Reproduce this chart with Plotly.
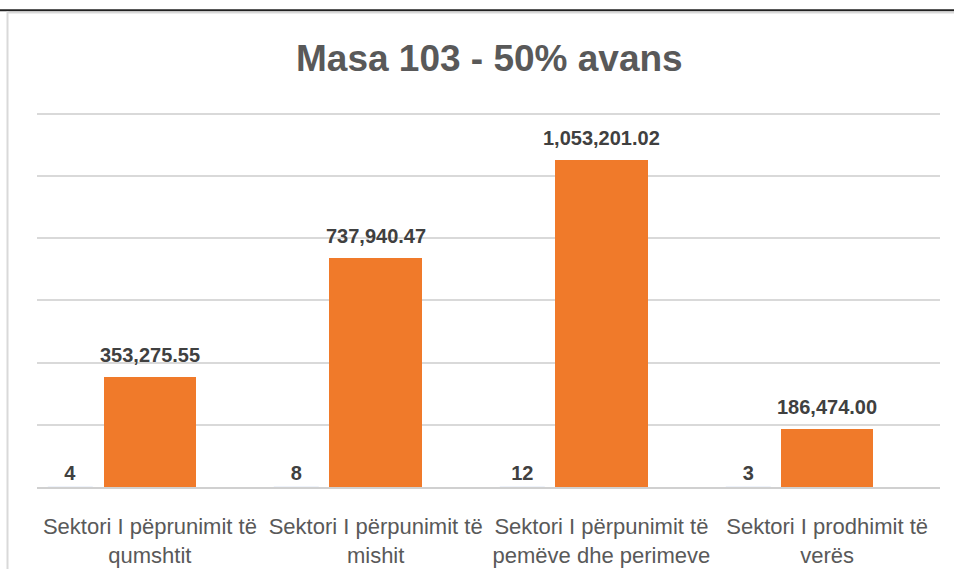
import plotly.graph_objects as go

categories = ["Sektori I pëprunimit të<br>qumshtit",
              "Sektori I përpunimit të<br>mishit",
              "Sektori I përpunimit të<br>pemëve dhe perimeve",
              "Sektori I prodhimit të<br>verës"]
counts = [4, 8, 12, 3]
amounts = [353275.55, 737940.47, 1053201.02, 186474.00]
amount_labels = ["353,275.55", "737,940.47", "1,053,201.02", "186,474.00"]
title = "Masa 103 - 50% avans"

W, H = 954, 580
Y_TOP = 1206000
L, R, B = 37, 14, 84
ph = 382 * Y_TOP / 1200000
T = H - B - ph
pw = W - L - R

def px_x(p):
    return (p - L) / pw

def px_y(p):
    return (H - B - p) / ph

fig = go.Figure()
fig.add_trace(go.Bar(
    x=categories, y=counts, width=0.2, offset=-0.45,
    marker=dict(color="rgba(0,0,0,0)"),
    text=[str(c) for c in counts], textposition="outside", cliponaxis=False,
    textfont=dict(family="Liberation Sans", size=20, color="#404040", weight="bold"),
    hoverinfo="skip", showlegend=False,
))
fig.add_trace(go.Bar(
    x=categories, y=amounts, width=0.41, offset=-0.205,
    marker=dict(color="#F07A2A", line=dict(width=0)),
    showlegend=False,
))
for c, v, t in zip(categories, amounts, amount_labels):
    fig.add_annotation(x=c, y=v, text="<b>" + t + "</b>", showarrow=False,
                       yanchor="bottom", yshift=9,
                       font=dict(family="Liberation Sans", size=20, color="#404040"))

fig.add_annotation(xref="paper", yref="paper", x=px_x(490), y=px_y(57),
                   text="<b>" + title + "</b>", showarrow=False, xanchor="center",
                   yanchor="middle",
                   font=dict(family="Liberation Sans", size=37, color="#595959"))

shapes = [
    dict(type="line", xref="paper", yref="paper", x0=px_x(0), x1=px_x(W), y0=px_y(8), y1=px_y(8),
         line=dict(color="#222222", width=2)),
    dict(type="line", xref="paper", yref="paper", x0=px_x(8), x1=px_x(W), y0=px_y(10.5), y1=px_y(10.5),
         line=dict(color="#d9d9d9", width=1.5)),
    dict(type="line", xref="paper", yref="paper", x0=px_x(7.5), x1=px_x(7.5), y0=px_y(9), y1=px_y(H),
         line=dict(color="#d9d9d9", width=2)),
]

fig.update_layout(
    width=W, height=H,
    margin=dict(l=L, r=R, t=T, b=B, pad=0),
    paper_bgcolor="white", plot_bgcolor="white",
    bargap=0, barmode="overlay",
    shapes=shapes,
    xaxis=dict(showgrid=False, showline=True, linecolor="#d0d0d0", linewidth=2,
               ticks="", ticklabelstandoff=19,
               tickfont=dict(family="Liberation Sans", size=22, color="#595959")),
    yaxis=dict(range=[0, Y_TOP], dtick=200000, showticklabels=False,
               gridcolor="#d9d9d9", gridwidth=1.5, zeroline=False, showline=False),
)

fig.write_html("out.html", config={"displayModeBar": False},
               post_script="document.body.style.margin='0';")
